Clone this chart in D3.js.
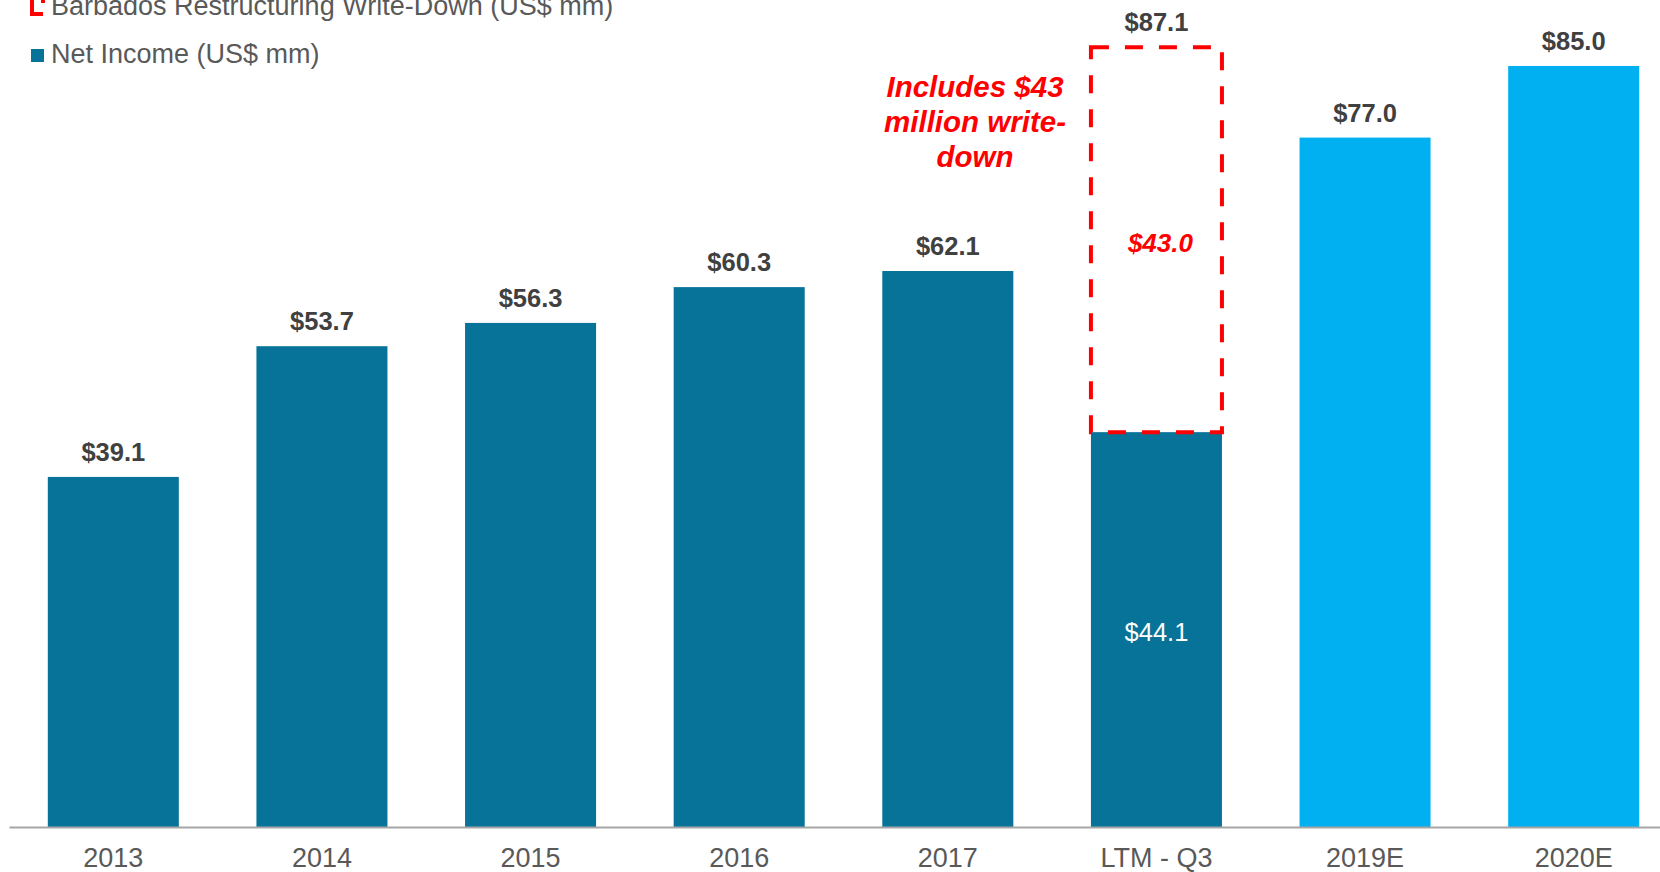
<!DOCTYPE html>
<html>
<head>
<meta charset="utf-8">
<script src="https://cdn.jsdelivr.net/npm/d3@7"></script>
<style>
  html, body { margin: 0; padding: 0; background: #ffffff; }
  svg { display: block; font-family: "Liberation Sans", Arial, sans-serif; }
</style>
</head>
<body>
<svg id="chart" width="1660" height="872"></svg>
<script>
const categories = ["2013", "2014", "2015", "2016", "2017", "LTM - Q3", "2019E", "2020E"];
const netIncome = [39.1, 53.7, 56.3, 60.3, 62.1, 44.1, 77.0, 85.0];
const writeDown = [0, 0, 0, 0, 0, 43.0, 0, 0];
const isEstimate = [false, false, false, false, false, false, true, true];
const legendLabels = ["Barbados Restructuring Write-Down (US$ mm)", "Net Income (US$ mm)"];
const annotationLines = ["Includes $43", "million write-", "down"];

const colDark = "#077399", colLight = "#00B0F0", colRed = "#FF0000";
const textDark = "#404040", textGray = "#595959";

const svg = d3.select("#chart");
const x = d3.scaleBand().domain(categories).range([9, 1678]).paddingInner(0.372).paddingOuter(0.186);
const y = d3.scaleLinear().domain([0, 90]).range([827, 21.2]);

const rows = categories.map((c, i) => ({ c, ni: netIncome[i], wd: writeDown[i], est: isEstimate[i] }));
const fmt = v => "$" + d3.format(".1f")(v);

// Net income bars
svg.append("g").selectAll("rect").data(rows).join("rect")
  .attr("x", d => x(d.c)).attr("width", x.bandwidth())
  .attr("y", d => y(d.ni)).attr("height", d => y(0) - y(d.ni))
  .attr("fill", d => d.est ? colLight : colDark);

// Write-down segments (dashed outline)
svg.append("g").selectAll("rect").data(rows.filter(d => d.wd > 0)).join("rect")
  .attr("x", d => x(d.c)).attr("width", x.bandwidth())
  .attr("y", d => y(d.ni + d.wd)).attr("height", d => y(d.ni) - y(d.ni + d.wd))
  .attr("fill", "none").attr("stroke", colRed).attr("stroke-width", 4)
  .attr("stroke-dasharray", "18,16");

// Axis
const axis = svg.append("g").attr("transform", `translate(0,${y(0)})`)
  .call(d3.axisBottom(x).tickSize(0).tickSizeOuter(0).tickPadding(21));
axis.select(".domain").attr("stroke", "#a6a6a6").attr("stroke-width", 2);
axis.selectAll("text").attr("font-size", 27).attr("fill", textGray)
  .attr("font-family", "'Liberation Sans', Arial, sans-serif");

// Top labels (totals)
svg.append("g").selectAll("text").data(rows).join("text")
  .attr("x", d => x(d.c) + x.bandwidth() / 2)
  .attr("y", d => y(d.ni + d.wd) - 16)
  .attr("text-anchor", "middle").attr("font-size", 25.5).attr("font-weight", "bold")
  .attr("fill", textDark)
  .text(d => fmt(d.ni + d.wd));

// Inner labels for stacked bar
const stacked = rows.filter(d => d.wd > 0);
svg.append("g").selectAll("text").data(stacked).join("text")
  .attr("x", d => x(d.c) + x.bandwidth() / 2)
  .attr("y", d => (y(d.ni) + y(0)) / 2 + 11)
  .attr("text-anchor", "middle").attr("font-size", 25.5).attr("fill", "#ffffff")
  .text(d => fmt(d.ni));
svg.append("g").selectAll("text").data(stacked).join("text")
  .attr("x", d => x(d.c) + x.bandwidth() / 2 + 4)
  .attr("y", d => (y(d.ni) + y(d.ni + d.wd)) / 2 + 12)
  .attr("text-anchor", "middle").attr("font-size", 26).attr("font-weight", "bold")
  .attr("font-style", "italic").attr("fill", colRed)
  .text(d => fmt(d.wd));

// Annotation
const ann = svg.append("text").attr("text-anchor", "middle").attr("font-size", 29.5)
  .attr("font-weight", "bold").attr("font-style", "italic").attr("fill", colRed);
annotationLines.forEach((t, i) => {
  ann.append("tspan").attr("x", 975).attr("y", 97 + i * 35).text(t);
});

// Legend
const lg = svg.append("g");
lg.append("rect").attr("x", 32).attr("y", -3).attr("width", 11).attr("height", 17)
  .attr("fill", "none").attr("stroke", colRed).attr("stroke-width", 4)
  .attr("stroke-dasharray", "17,11,40");
lg.append("text").attr("x", 51).attr("y", 15).attr("font-size", 27).attr("fill", textGray)
  .text(legendLabels[0]);
lg.append("rect").attr("x", 31).attr("y", 49).attr("width", 13).attr("height", 13).attr("fill", colDark);
lg.append("text").attr("x", 51).attr("y", 63).attr("font-size", 27).attr("fill", textGray)
  .text(legendLabels[1]);
</script>
</body>
</html>
